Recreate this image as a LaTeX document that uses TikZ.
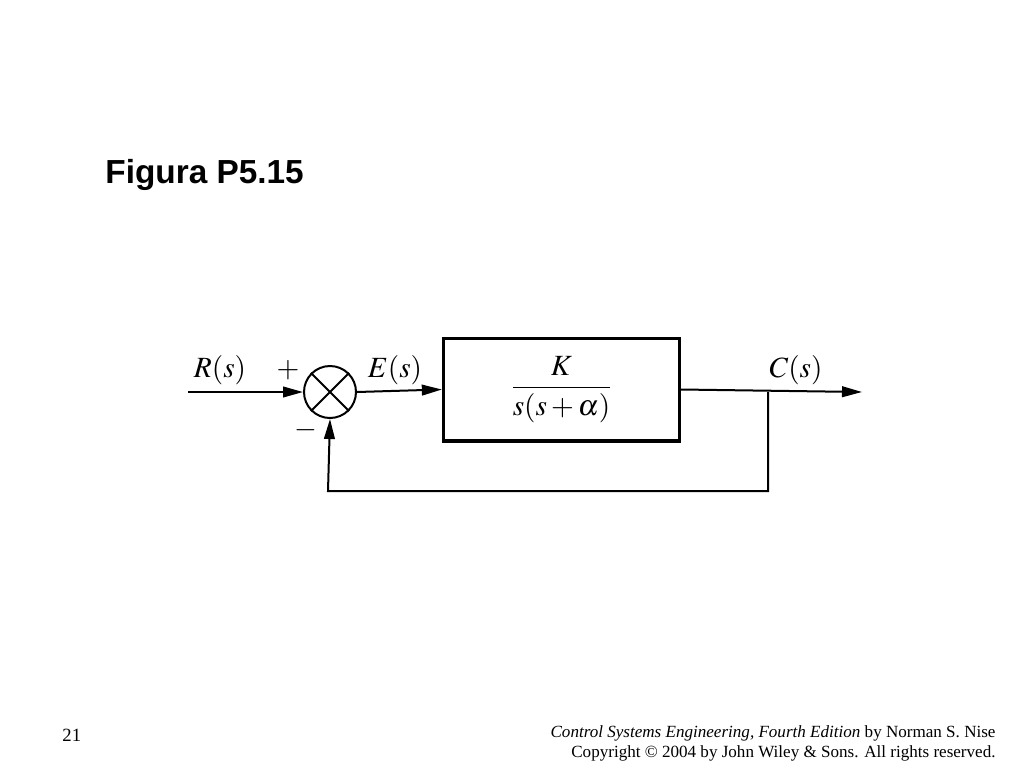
\documentclass[tikz,border=0pt]{standalone}
\usepackage{mathptmx}
\usepackage{fontspec}
\setmainfont{Liberation Serif}
\newfontfamily\titlefont{Liberation Sans}
\usetikzlibrary{arrows.meta}

\tikzset{every picture/.style={line width=1.5pt}}
\tikzset{sig/.style={-{Triangle[length=15pt,width=8pt]}},
  lbl/.style={font=\fontsize{22}{25}\selectfont}}

\begin{document}
\begin{tikzpicture}[x=0.75pt,y=0.75pt,yscale=-1,xscale=1]
	\useasboundingbox (0,0) rectangle (1024,768);

	% Title
	\node[anchor=west, font=\titlefont\bfseries\fontsize{25}{29}\selectfont] (title) at (100,175) {Figura P5.15};

	% Summing junction
	\node[draw, circle, minimum size=39pt, inner sep=0pt] (sum) at (330,392) {};
	\draw (sum.north west) -- (sum.south east);
	\draw (sum.north east) -- (sum.south west);

	% Plant block
	\node[draw, line width=2.5pt, minimum width=177pt, minimum height=77pt, lbl] (plant) at (561.5,389.5) {$\displaystyle\frac{K}{s(s+\alpha)}$};

	% Coordinates
	\coordinate (in) at (188,392);
	\coordinate (out) at (862,392);
	\coordinate (branch) at (768,392);
	\coordinate (fbR) at (768,491);
	\coordinate (fbL) at (328,491);

	% Signals
	\draw[sig] (in) -- (sum.west);
	\draw[sig] (sum.east) -- (plant.west);
	\draw[sig] (plant.east) -- (out);
	\draw[sig] (branch) -- (fbR) -- (fbL) -- (sum.south);

	% Labels
	\node[lbl] (rlabel) at (220,370) {$R(s)$};
	\node[lbl] (plus) at (288,370) {$+$};
	\node[lbl] (minus) at (306,430) {$-$};
	\node[lbl] (elabel) at (395,370) {$E(s)$};
	\node[lbl] (clabel) at (796,370) {$C(s)$};

	% Footer
	\node[anchor=west, font=\fontsize{14}{16}\selectfont] (page) at (57,735) {21};
	\node[anchor=east, font=\fontsize{12.8}{15}\selectfont] (credit1) at (1001,733) {\textit{Control Systems Engineering, Fourth Edition} by Norman S. Nise};
	\node[anchor=east, font=\fontsize{12.8}{15}\selectfont] (credit2) at (1001,753) {Copyright © 2004 by John Wiley \& Sons. All rights reserved.};
\end{tikzpicture}
\end{document}
